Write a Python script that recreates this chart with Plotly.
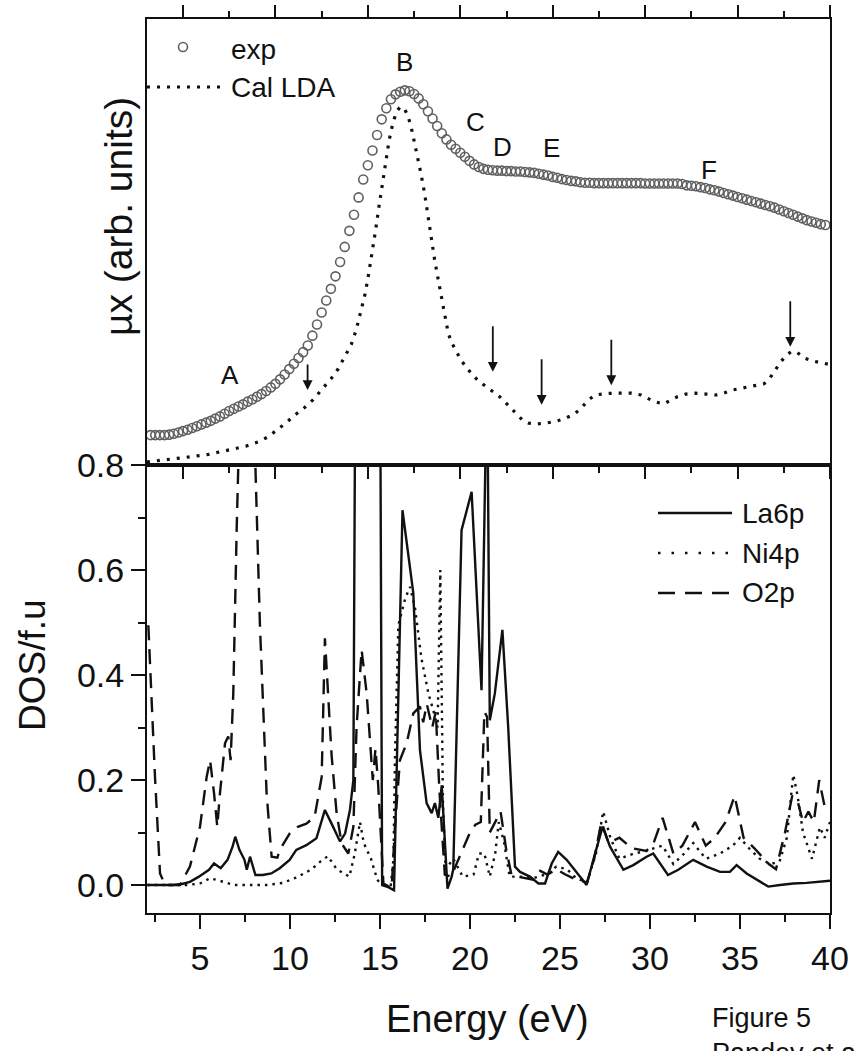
import plotly.graph_objects as go

# ---------------- Top panel data (arbitrary units) ----------------
exp_E = [3.25 + 0.25 * i for i in range(147)]
exp_mu = [0.067, 0.067, 0.067, 0.067, 0.068, 0.070, 0.073, 0.076, 0.079, 0.083,
          0.087, 0.091, 0.095, 0.099, 0.104, 0.109, 0.115, 0.121, 0.126, 0.131,
          0.136, 0.142, 0.147, 0.153, 0.159, 0.166, 0.174, 0.182, 0.192, 0.203,
          0.215, 0.227, 0.240, 0.253, 0.268, 0.290, 0.315, 0.342, 0.369, 0.395,
          0.423, 0.455, 0.489, 0.525, 0.561, 0.600, 0.640, 0.672, 0.705, 0.740,
          0.775, 0.800, 0.820, 0.831, 0.837, 0.840, 0.838, 0.832, 0.822, 0.809,
          0.793, 0.777, 0.760, 0.744, 0.730, 0.718, 0.709, 0.700, 0.691, 0.682,
          0.674, 0.668, 0.664, 0.662, 0.661, 0.660, 0.660, 0.659, 0.659, 0.658,
          0.658, 0.657, 0.656, 0.655, 0.653, 0.651, 0.649, 0.646, 0.644, 0.641,
          0.639, 0.637, 0.636, 0.634, 0.633, 0.633, 0.632, 0.632, 0.632, 0.632,
          0.632, 0.632, 0.632, 0.632, 0.632, 0.632, 0.632, 0.631, 0.631, 0.631,
          0.631, 0.631, 0.631, 0.631, 0.631, 0.630, 0.627, 0.626, 0.625, 0.623,
          0.621, 0.618, 0.616, 0.613, 0.610, 0.607, 0.604, 0.601, 0.598, 0.595,
          0.592, 0.589, 0.586, 0.583, 0.580, 0.577, 0.573, 0.569, 0.565, 0.561,
          0.557, 0.553, 0.549, 0.546, 0.543, 0.540, 0.538]

lda_E = [3.05, 4.0, 5.14, 6.4, 7.6, 8.4, 9.08, 9.6, 10.06, 10.56, 11.05, 11.55,
         12.03, 12.5, 13.02, 13.4, 13.76, 14.1, 14.37, 14.6, 14.86, 15.05, 15.23,
         15.42, 15.6, 15.8, 15.97, 16.15, 16.35, 16.55, 16.75, 16.96, 17.15, 17.33,
         17.5, 17.7, 17.88, 18.07, 18.25, 18.44, 18.62, 18.81, 19.0, 19.18, 19.35,
         19.55, 19.8, 20.04, 20.35, 20.66, 21.0, 21.39, 21.75, 22.13, 22.45, 22.75,
         23.05, 23.36, 23.7, 24.1, 24.6, 25.09, 25.6, 26.07, 26.4, 26.69, 27.0,
         27.3, 27.8, 28.29, 28.8, 29.27, 29.77, 30.15, 30.51, 31.0, 31.35, 31.74,
         32.2, 32.73, 33.3, 33.84, 34.3, 34.7, 35.2, 35.69, 36.1, 36.43, 36.75,
         37.04, 37.35, 37.66, 37.9, 38.16, 38.4, 38.65, 39.1, 39.63, 40.0]
lda_mu = [0.007, 0.011, 0.017, 0.024, 0.034, 0.042, 0.052, 0.063, 0.078, 0.094,
          0.112, 0.128, 0.146, 0.168, 0.194, 0.216, 0.243, 0.27, 0.303, 0.34,
          0.385, 0.43, 0.475, 0.527, 0.579, 0.635, 0.684, 0.728, 0.766, 0.792,
          0.803, 0.80, 0.785, 0.760, 0.727, 0.691, 0.652, 0.609, 0.558, 0.504,
          0.458, 0.415, 0.37, 0.325, 0.295, 0.273, 0.252, 0.235, 0.218, 0.202,
          0.188, 0.176, 0.165, 0.153, 0.140, 0.127, 0.113, 0.101, 0.094, 0.092,
          0.094, 0.097, 0.103, 0.112, 0.122, 0.135, 0.148, 0.157, 0.160, 0.161,
          0.161, 0.161, 0.157, 0.150, 0.142, 0.137, 0.145, 0.153, 0.159, 0.161,
          0.159, 0.157, 0.162, 0.168, 0.172, 0.176, 0.179, 0.182, 0.195, 0.213,
          0.232, 0.247, 0.254, 0.254, 0.247, 0.239, 0.233, 0.228, 0.225]

peak_labels = ["A", "B", "C", "D", "E", "F"]
peak_E = [7.54, 17.0, 20.8, 22.31, 24.96, 33.46]
peak_mu = [0.202, 0.903, 0.770, 0.714, 0.710, 0.661]

arrow_E = [11.74, 21.76, 24.40, 28.17, 37.85]
arrow_mu = [0.168, 0.209, 0.135, 0.179, 0.265]
arrow_len = [27, 47, 47, 47, 47]

# ---------------- Bottom panel data (DOS / f.u) ----------------
la_E = [2.07, 3.0, 3.52, 4.0, 4.44, 4.94, 5.5, 5.78, 6.15, 6.53, 6.81, 6.96, 7.19,
        7.47, 7.6, 7.78, 7.93, 8.08, 8.49, 8.96, 9.43, 9.98, 10.35, 10.91, 11.47,
        11.94, 12.31, 12.78, 13.06, 13.33, 13.52, 13.7, 14.95, 15.12, 15.46, 15.78,
        16.25, 16.85, 17.22, 17.59, 17.87, 18.05, 18.24, 18.43, 18.75, 18.98, 19.07,
        19.53, 20.09, 20.64, 20.95, 21.1, 21.38, 21.8, 22.12, 22.5, 22.78, 23.33,
        23.8, 24.17, 24.54, 24.9, 25.37, 25.92, 26.48, 26.85, 27.37, 27.78, 28.52,
        29.07, 29.81, 30.18, 30.55, 31.0, 31.57, 32.4, 33.15, 33.89, 34.44, 34.81,
        35.37, 35.92, 36.57, 37.22, 37.96, 38.7, 39.44, 40.0]
la_dos = [0.0, 0.0, 0.0, 0.002, 0.006, 0.016, 0.029, 0.041, 0.032, 0.048, 0.073,
          0.092, 0.067, 0.048, 0.029, 0.054, 0.038, 0.019, 0.019, 0.022, 0.032,
          0.048, 0.067, 0.076, 0.089, 0.143, 0.117, 0.083, 0.098, 0.143, 0.2, 1.5,
          1.5, 0.0, -0.004, -0.01, 0.714, 0.556, 0.257, 0.156, 0.137, 0.156, 0.128,
          0.19, -0.007, 0.016, 0.03, 0.676, 0.749, 0.371, 1.0, 0.314, 0.365, 0.486,
          0.302, 0.035, 0.025, 0.016, 0.003, 0.003, 0.041, 0.063, 0.048, 0.025, 0.0,
          0.048, 0.111, 0.073, 0.029, 0.038, 0.054, 0.06, 0.041, 0.019, 0.029, 0.048,
          0.035, 0.025, 0.025, 0.038, 0.022, 0.010, -0.003, 0.0, 0.003, 0.004, 0.006,
          0.008]

ni_E = [2.07, 3.5, 4.3, 5.0, 5.56, 6.1, 6.9, 7.8, 8.7, 9.6, 10.4, 11.2, 11.7, 12.1,
        12.6, 13.3, 13.6, 13.89, 14.1, 14.5, 14.85, 15.1, 15.6, 15.75, 15.83, 16.02,
        16.4, 16.67, 16.95, 17.3, 17.69, 17.96, 18.2, 18.35, 18.5, 18.65, 19.07,
        19.6, 20.2, 20.5, 20.8, 21.1, 21.4, 21.6, 21.9, 22.2, 22.78, 23.5, 24.2,
        24.8, 25.4, 25.9, 26.5, 27.0, 27.4, 27.8, 28.3, 29.1, 29.8, 30.2, 30.7,
        31.3, 31.9, 32.4, 33.1, 33.9, 34.6, 35.0, 35.5, 36.1, 36.7, 37.2, 37.6,
        37.96, 38.2, 38.5, 38.7, 39.0, 39.44, 39.7, 40.0]
ni_dos = [0.0, 0.0, 0.0, 0.003, 0.013, 0.008, 0.0, 0.0, 0.0, 0.004, 0.015, 0.03,
          0.045, 0.055, 0.03, 0.016, 0.06, 0.12, 0.08, 0.05, 0.01, 0.0, 0.0, 0.05,
          0.238, 0.495, 0.546, 0.568, 0.527, 0.432, 0.365, 0.333, 0.30, 0.6, 0.15,
          0.03, 0.05, 0.016, 0.02, 0.06, 0.06, 0.016, 0.06, 0.12, 0.08, 0.016, 0.016,
          0.013, 0.02, 0.035, 0.03, 0.013, 0.005, 0.06, 0.14, 0.09, 0.05, 0.06, 0.065,
          0.07, 0.075, 0.04, 0.06, 0.08, 0.05, 0.06, 0.075, 0.09, 0.07, 0.05, 0.04,
          0.045, 0.09, 0.21, 0.17, 0.10, 0.08, 0.05, 0.11, 0.09, 0.12]

o_E = [2.13, 2.5, 2.78, 3.06, 3.89, 4.44, 5.0, 5.37, 5.56, 5.78, 5.96, 6.11, 6.39,
       6.57, 6.7, 6.85, 7.04, 7.17, 7.5, 7.8, 8.06, 8.33, 8.7, 8.98, 9.3, 9.43,
       9.98, 10.44, 10.91, 11.37, 11.76, 11.94, 12.13, 12.31, 12.59, 12.87, 13.24,
       13.52, 13.7, 13.98, 14.26, 14.44, 14.6, 14.75, 14.9, 15.19, 15.65, 15.83,
       16.11, 16.48, 16.85, 17.22, 17.4, 17.6, 17.9, 18.1, 18.3, 18.6, 18.95, 19.5,
       20.0, 20.3, 20.6, 20.8, 20.95, 21.1, 21.4, 21.7, 22.0, 22.3, 22.78, 23.5,
       23.9, 24.3, 24.8, 25.3, 25.9, 26.5, 26.9, 27.3, 27.7, 28.3, 29.0, 29.8, 30.2,
       30.7, 31.3, 31.8, 32.5, 33.1, 33.6, 34.2, 34.7, 35.2, 35.8, 36.3, 36.6, 37.0,
       37.5, 37.9, 38.2, 38.5, 38.8, 39.1, 39.4, 39.7, 40.0]
o_dos = [0.495, 0.206, 0.022, 0.0, 0.0, 0.035, 0.111, 0.206, 0.238, 0.175, 0.111,
         0.175, 0.27, 0.283, 0.238, 0.365, 0.68, 0.85, 1.3, 1.3, 0.82, 0.495, 0.175,
         0.054, 0.052, 0.067, 0.098, 0.111, 0.117, 0.13, 0.206, 0.47, 0.343, 0.248,
         0.137, 0.079, 0.06, 0.111, 0.302, 0.448, 0.365, 0.27, 0.2, 0.26, 0.19,
         0.003, -0.006, 0.111, 0.238, 0.27, 0.327, 0.34, 0.31, 0.345, 0.30, 0.33,
         0.18, 0.02, 0.016, 0.06, 0.10, 0.115, 0.12, 0.33, 0.32, 0.10, 0.12, 0.14,
         0.07, 0.02, 0.015, 0.01, 0.027, 0.02, 0.03, 0.02, 0.01, 0.005, 0.05, 0.12,
         0.08, 0.09, 0.07, 0.065, 0.08, 0.128, 0.06, 0.075, 0.12, 0.075, 0.09, 0.12,
         0.17, 0.09, 0.07, 0.05, 0.04, 0.03, 0.10, 0.17, 0.16, 0.12, 0.14, 0.12,
         0.2, 0.15, 0.14]

FONT = "Liberation Sans, Arial, sans-serif"
INK = "#111111"

fig = go.Figure()

# top panel traces
fig.add_trace(go.Scatter(x=lda_E, y=lda_mu, mode="lines", xaxis="x2", yaxis="y2",
                         line=dict(color=INK, width=3.2, dash="3px,7px"), showlegend=False))
fig.add_trace(go.Scatter(x=exp_E, y=exp_mu, mode="markers", xaxis="x2", yaxis="y2",
                         marker=dict(symbol="circle-open", size=9, color="#606060",
                                     line=dict(width=1.6, color="#606060")),
                         showlegend=False))

# bottom panel traces
fig.add_trace(go.Scatter(x=o_E, y=o_dos, mode="lines", xaxis="x", yaxis="y",
                         line=dict(color=INK, width=2.4, dash="15px,9px"), showlegend=False))
fig.add_trace(go.Scatter(x=ni_E, y=ni_dos, mode="lines", xaxis="x", yaxis="y",
                         line=dict(color=INK, width=2.4, dash="2.5px,5px"), showlegend=False))
fig.add_trace(go.Scatter(x=la_E, y=la_dos, mode="lines", xaxis="x", yaxis="y",
                         line=dict(color=INK, width=2.4), showlegend=False))

# geometry in pixels -> paper
W, H = 855, 1051
ML, MR, MT, MB = 147, 25, 19, 138
PW, PH = W - ML - MR, H - MT - MB
split = (913 - 465) / PH


def px(x):
    return (x - ML) / PW


def py(y):
    return (H - MB - y) / PH


def note(x, y, text, size, xanchor="center", yanchor="middle", angle=0):
    return dict(x=px(x), y=py(y), xref="paper", yref="paper", text=text,
                xanchor=xanchor, yanchor=yanchor, textangle=angle, showarrow=False,
                font=dict(family=FONT, size=size, color=INK))


annotations = []
for lab, e, m in zip(peak_labels, peak_E, peak_mu):
    annotations.append(dict(x=e, y=m, xref="x2", yref="y2", text=lab, showarrow=False,
                            xanchor="center", yanchor="middle",
                            font=dict(family=FONT, size=26, color=INK)))
for e, m, L in zip(arrow_E, arrow_mu, arrow_len):
    annotations.append(dict(x=e, y=m, xref="x2", yref="y2", text="", showarrow=True,
                            ax=0, ay=-L, axref="pixel", ayref="pixel",
                            arrowhead=2, arrowsize=1.1, arrowwidth=1.8, arrowcolor=INK))

# legend texts
annotations.append(note(229, 50, "exp", 28, xanchor="left"))
annotations.append(note(229, 87, "Cal LDA", 28, xanchor="left"))
for name, yy in zip(["La6p", "Ni4p", "O2p"], [513, 553, 593]):
    annotations.append(note(740, yy, name, 28, xanchor="left"))

# axis titles and caption
annotations.append(note(32, 665, "DOS/f.u", 37, angle=-90))
annotations.append(note(118, 217, "\u00b5x (arb. units)", 39, angle=-90))
annotations.append(note(487, 1019, "Energy (eV)", 38))
annotations.append(note(710, 1018, "Figure 5", 27, xanchor="left"))
annotations.append(note(710, 1053, "Pandey et al", 27, xanchor="left"))

shapes = [
    dict(type="circle", xref="paper", yref="paper", xsizemode="pixel", ysizemode="pixel",
         xanchor=px(183), yanchor=py(47), x0=-4.5, x1=4.5, y0=-4.5, y1=4.5,
         line=dict(color="#606060", width=1.6)),
    dict(type="line", xref="paper", yref="paper", x0=px(147), x1=px(222), y0=py(87), y1=py(87),
         line=dict(color=INK, width=3.2, dash="3px,7px")),
    dict(type="line", xref="paper", yref="paper", x0=px(658), x1=px(732), y0=py(513), y1=py(513),
         line=dict(color=INK, width=2.4)),
    dict(type="line", xref="paper", yref="paper", x0=px(658), x1=px(732), y0=py(553), y1=py(553),
         line=dict(color=INK, width=2.4, dash="2.5px,11px")),
    dict(type="line", xref="paper", yref="paper", x0=px(658), x1=px(732), y0=py(593), y1=py(593),
         line=dict(color=INK, width=2.4, dash="17px,10px")),
]

tickfont = dict(family=FONT, size=34, color=INK)
common_line = dict(showline=True, linewidth=2, linecolor=INK, showgrid=False, zeroline=False,
                   automargin=False)

fig.update_layout(
    width=W, height=H,
    margin=dict(l=ML, r=MR, t=MT, b=MB, pad=0),
    paper_bgcolor="white", plot_bgcolor="white",
    showlegend=False,
    xaxis=dict(domain=[0, 1], anchor="y", range=[2.056, 40], tickmode="linear", tick0=0,
               dtick=5, ticks="outside", ticklen=14, tickwidth=2, tickcolor=INK,
               mirror=True, tickfont=tickfont,
               minor=dict(tick0=0, dtick=2.5, ticks="outside", ticklen=7, tickwidth=2,
                          tickcolor=INK, showgrid=False),
               **common_line),
    yaxis=dict(domain=[0, split], anchor="x", range=[-0.0533, 0.8002], tickmode="linear",
               tick0=0, dtick=0.2, tickformat=".1f", ticks="outside", ticklen=14,
               tickwidth=2, tickcolor=INK, mirror=True, tickfont=tickfont,
               minor=dict(tick0=0, dtick=0.1, ticks="outside", ticklen=7, tickwidth=2,
                          tickcolor=INK, showgrid=False),
               **common_line),
    xaxis2=dict(domain=[0, 1], anchor="y2", range=[3.053, 40], tickmode="linear", tick0=0,
                dtick=5, ticks="outside", ticklen=12, tickwidth=2, tickcolor=INK,
                mirror="ticks", showticklabels=False,
                minor=dict(tick0=0, dtick=2.5, ticks="outside", ticklen=6, tickwidth=2,
                           tickcolor=INK, showgrid=False),
                **common_line),
    yaxis2=dict(domain=[split, 1], anchor="x2", range=[0, 1], showticklabels=False,
                ticks="", mirror=True, **common_line),
    annotations=annotations,
    shapes=shapes,
)

fig.write_html("out.html")
